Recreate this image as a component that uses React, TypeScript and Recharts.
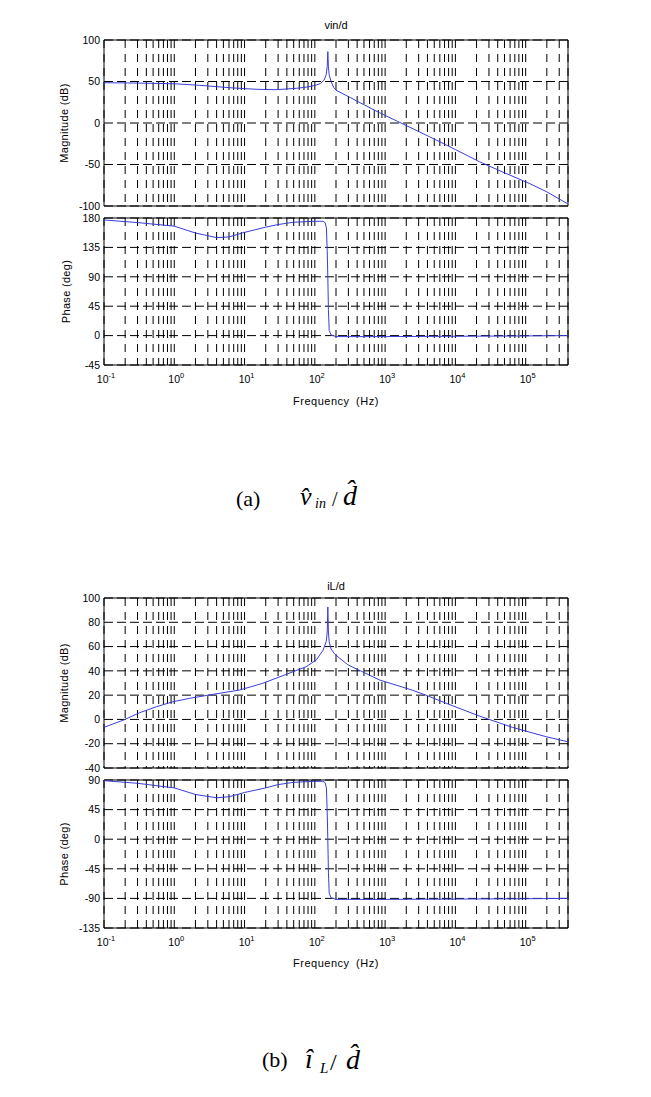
import React from 'react';
import { LineChart, Line, XAxis, YAxis, CartesianGrid, ReferenceArea } from 'recharts';

// ---------- axis / tick data ----------
const decades = [0.1, 1, 10, 100, 1000, 10000, 100000];
const decadeExponents = ['-1', '0', '1', '2', '3', '4', '5'];
const gridMultipliers = [1, 2, 3, 4, 5, 6, 7, 8, 9];
const freqDomain: [number, number] = [0.1, 400000];

const magATicks = [-100, -50, 0, 50, 100];
const phaseATicks = [-45, 0, 45, 90, 135, 180];
const magBTicks = [-40, -20, 0, 20, 40, 60, 80, 100];
const phaseBTicks = [-135, -90, -45, 0, 45, 90];

// ---------- (a) vin/d ----------
const magAFreq = [0.1, 0.2, 0.5, 1, 2.3, 4, 6.2, 10, 15, 28, 55, 80, 105, 120, 135, 145, 150, 153, 156, 160, 170, 185, 200, 300, 500, 832, 1500, 4270, 10000, 21900, 50000, 112000, 200000, 400000];
const magAVal = [48.5, 48.3, 47.8, 47.3, 45.4, 43.8, 42.5, 41.4, 40.6, 40.1, 41.8, 43.5, 45.8, 47.5, 51.5, 58, 68, 86, 68, 58, 50, 43, 39.5, 31.8, 22, 12.4, 2, -16.5, -32, -46.6, -60, -72.7, -83, -97.6];

const phaseAFreq = [0.1, 0.3, 1, 2, 4, 6, 10, 20, 30, 50, 100, 130, 140, 146, 150, 153, 156, 160, 170, 200, 1000, 10000, 100000, 400000];
const phaseAVal = [177, 173, 167.5, 157, 150, 151, 158, 166, 170, 173.5, 175, 175, 173, 165, 130, 90, 40, 8, 1, -1.5, -1.5, -1, -0.5, 0];

// ---------- (b) iL/d ----------
const magBFreq = [0.1, 0.19, 0.32, 0.56, 0.96, 1.66, 3.6, 8.5, 18, 43, 75, 105, 131, 145, 150, 153, 156, 160, 170, 191, 224, 295, 832, 2470, 3800, 7400, 21900, 64600, 194000, 400000];
const magBVal = [-6.5, -0.5, 5.5, 10.5, 14.6, 17.4, 20.7, 24.2, 29.7, 38, 43.4, 49, 57, 64, 72, 92.6, 72, 64, 58, 54, 50.5, 45, 32.5, 24, 20, 13.3, 2.8, -6.5, -14.2, -18.4];

const phaseBFreq = [0.1, 0.3, 1, 2, 4, 6, 10, 20, 30, 50, 100, 130, 140, 146, 150, 153, 156, 160, 170, 200, 1000, 10000, 100000, 400000];
const phaseBVal = [89, 85, 78, 68, 63, 64.5, 71, 78, 83, 86.5, 88, 88, 86, 78, 40, 0, -50, -82, -89, -91.5, -91.5, -91, -90.5, -90];

const gridFreqs = decades
  .flatMap((d) => gridMultipliers.map((m) => +(m * d).toPrecision(6)))
  .filter((f) => f <= freqDomain[1]);

const FONT = '"Liberation Sans", Arial, Helvetica, sans-serif';
const SERIF = '"Liberation Serif", "Times New Roman", serif';
const LINE_COLOR = '#3c3cd8';

function makeData(fs: number[], vs: number[]) {
  return fs.map((f, i) => ({ f, v: vs[i] }));
}

const XTickLabel = (props: any) => {
  const { x, y, payload } = props;
  const idx = decades.findIndex((d) => Math.abs(payload.value - d) < d * 1e-6);
  if (idx < 0) return <g />;
  return (
    <text x={x + 2} y={y + 18} textAnchor="middle" fontFamily={FONT} fontSize={10.5} fill="#000">
      <tspan>10</tspan>
      <tspan dy={-5} fontSize={7.5}>{decadeExponents[idx]}</tspan>
    </text>
  );
};

const EmptyTick = () => <g />;

type PanelProps = {
  plotTop: number;
  plotHeight: number;
  data: { f: number; v: number }[];
  yDomain: [number, number];
  yTicks: number[];
  yLabel: string;
  yLabelOffset: number;
  showX: boolean;
};

function Panel({ plotTop, plotHeight, data, yDomain, yTicks, yLabel, yLabelOffset, showX }: PanelProps) {
  const mt = 10;
  const axisH = showX ? 30 : 1;
  const mb = 8;
  const height = mt + plotHeight + axisH + mb;
  return (
    <div style={{ position: 'absolute', left: 0, top: plotTop - mt, width: 651, height }}>
      <LineChart width={651} height={height} data={data} margin={{ top: mt, right: 83, bottom: mb, left: 64 }}>
        <CartesianGrid horizontal={false} vertical stroke="#000" strokeDasharray="8 6" />
        <CartesianGrid vertical={false} horizontal stroke="#000" strokeDasharray="9 4" />
        <XAxis
          dataKey="f"
          type="number"
          scale="log"
          domain={freqDomain}
          ticks={gridFreqs}
          interval={0}
          allowDataOverflow
          tickLine={false}
          axisLine={false}
          tickSize={0}
          tickMargin={0}
          height={axisH}
          tick={showX ? XTickLabel : EmptyTick}
        />
        <YAxis
          type="number"
          domain={yDomain}
          ticks={yTicks}
          interval={0}
          allowDataOverflow
          width={40}
          tickLine={false}
          axisLine={false}
          tickSize={0}
          tickMargin={4}
          tick={{ fontSize: 10.5, fill: '#000', fontFamily: FONT }}
          label={{
            value: yLabel,
            angle: -90,
            position: 'insideLeft',
            offset: yLabelOffset,
            style: { textAnchor: 'middle', fontSize: 11, fontFamily: FONT, fill: '#000', letterSpacing: 0.3 },
          }}
        />
        <ReferenceArea
          x1={freqDomain[0]}
          x2={freqDomain[1]}
          y1={yDomain[0]}
          y2={yDomain[1]}
          fill="none"
          fillOpacity={0}
          stroke="#000"
          strokeWidth={1}
          ifOverflow="visible"
        />
        <Line type="linear" dataKey="v" stroke={LINE_COLOR} strokeWidth={1} dot={false} isAnimationActive={false} />
      </LineChart>
    </div>
  );
}

export default function App() {
  return (
    <div style={{ position: 'absolute', left: 0, top: 0, width: 651, height: 1097, background: '#fff' }}>
      <Panel plotTop={40} plotHeight={166} data={makeData(magAFreq, magAVal)} yDomain={[-100, 100]} yTicks={magATicks} yLabel="Magnitude (dB)" yLabelOffset={0} showX={false} />
      <Panel plotTop={218} plotHeight={147} data={makeData(phaseAFreq, phaseAVal)} yDomain={[-45, 180]} yTicks={phaseATicks} yLabel="Phase (deg)" yLabelOffset={2} showX />
      <Panel plotTop={598} plotHeight={170} data={makeData(magBFreq, magBVal)} yDomain={[-40, 100]} yTicks={magBTicks} yLabel="Magnitude (dB)" yLabelOffset={0} showX={false} />
      <Panel plotTop={780} plotHeight={148} data={makeData(phaseBFreq, phaseBVal)} yDomain={[-135, 90]} yTicks={phaseBTicks} yLabel="Phase (deg)" yLabelOffset={0} showX />

      <svg width={651} height={1097} style={{ position: 'absolute', left: 0, top: 0, pointerEvents: 'none' }}>
        <text x={336} y={29} textAnchor="middle" fontFamily={FONT} fontSize={11} fill="#000">vin/d</text>
        <text x={336} y={405} textAnchor="middle" fontFamily={FONT} fontSize={11} fill="#000" letterSpacing={0.5} wordSpacing={3}>Frequency (Hz)</text>
        <text x={336} y={590} textAnchor="middle" fontFamily={FONT} fontSize={11} fill="#000">iL/d</text>
        <text x={336} y={967} textAnchor="middle" fontFamily={FONT} fontSize={11} fill="#000" letterSpacing={0.5} wordSpacing={3}>Frequency (Hz)</text>

        {/* caption (a) */}
        <text x={236} y={506} fontFamily={SERIF} fontSize={22} fill="#000">(a)</text>
        <text x={300} y={505} fontFamily={SERIF} fontSize={26} fontStyle="italic" fill="#000">{'v\u0302'}</text>
        <text x={315} y={508} fontFamily={SERIF} fontSize={14} fontStyle="italic" fill="#000">in</text>
        <text x={332} y={506} fontFamily={SERIF} fontSize={20} fill="#000">/</text>
        <text x={343} y={505} fontFamily={SERIF} fontSize={28} fontStyle="italic" fill="#000">{'d\u0302'}</text>

        {/* caption (b) */}
        <text x={262} y={1067} fontFamily={SERIF} fontSize={22} fill="#000">(b)</text>
        <text x={305} y={1068} fontFamily={SERIF} fontSize={28} fontStyle="italic" fill="#000">{'\u00ee'}</text>
        <text x={320} y={1073} fontFamily={SERIF} fontSize={15} fontStyle="italic" fill="#000">L</text>
        <text x={330} y={1070} fontFamily={SERIF} fontSize={24} fill="#000">/</text>
        <text x={346} y={1069} fontFamily={SERIF} fontSize={28} fontStyle="italic" fill="#000">{'d\u0302'}</text>
      </svg>
    </div>
  );
}
